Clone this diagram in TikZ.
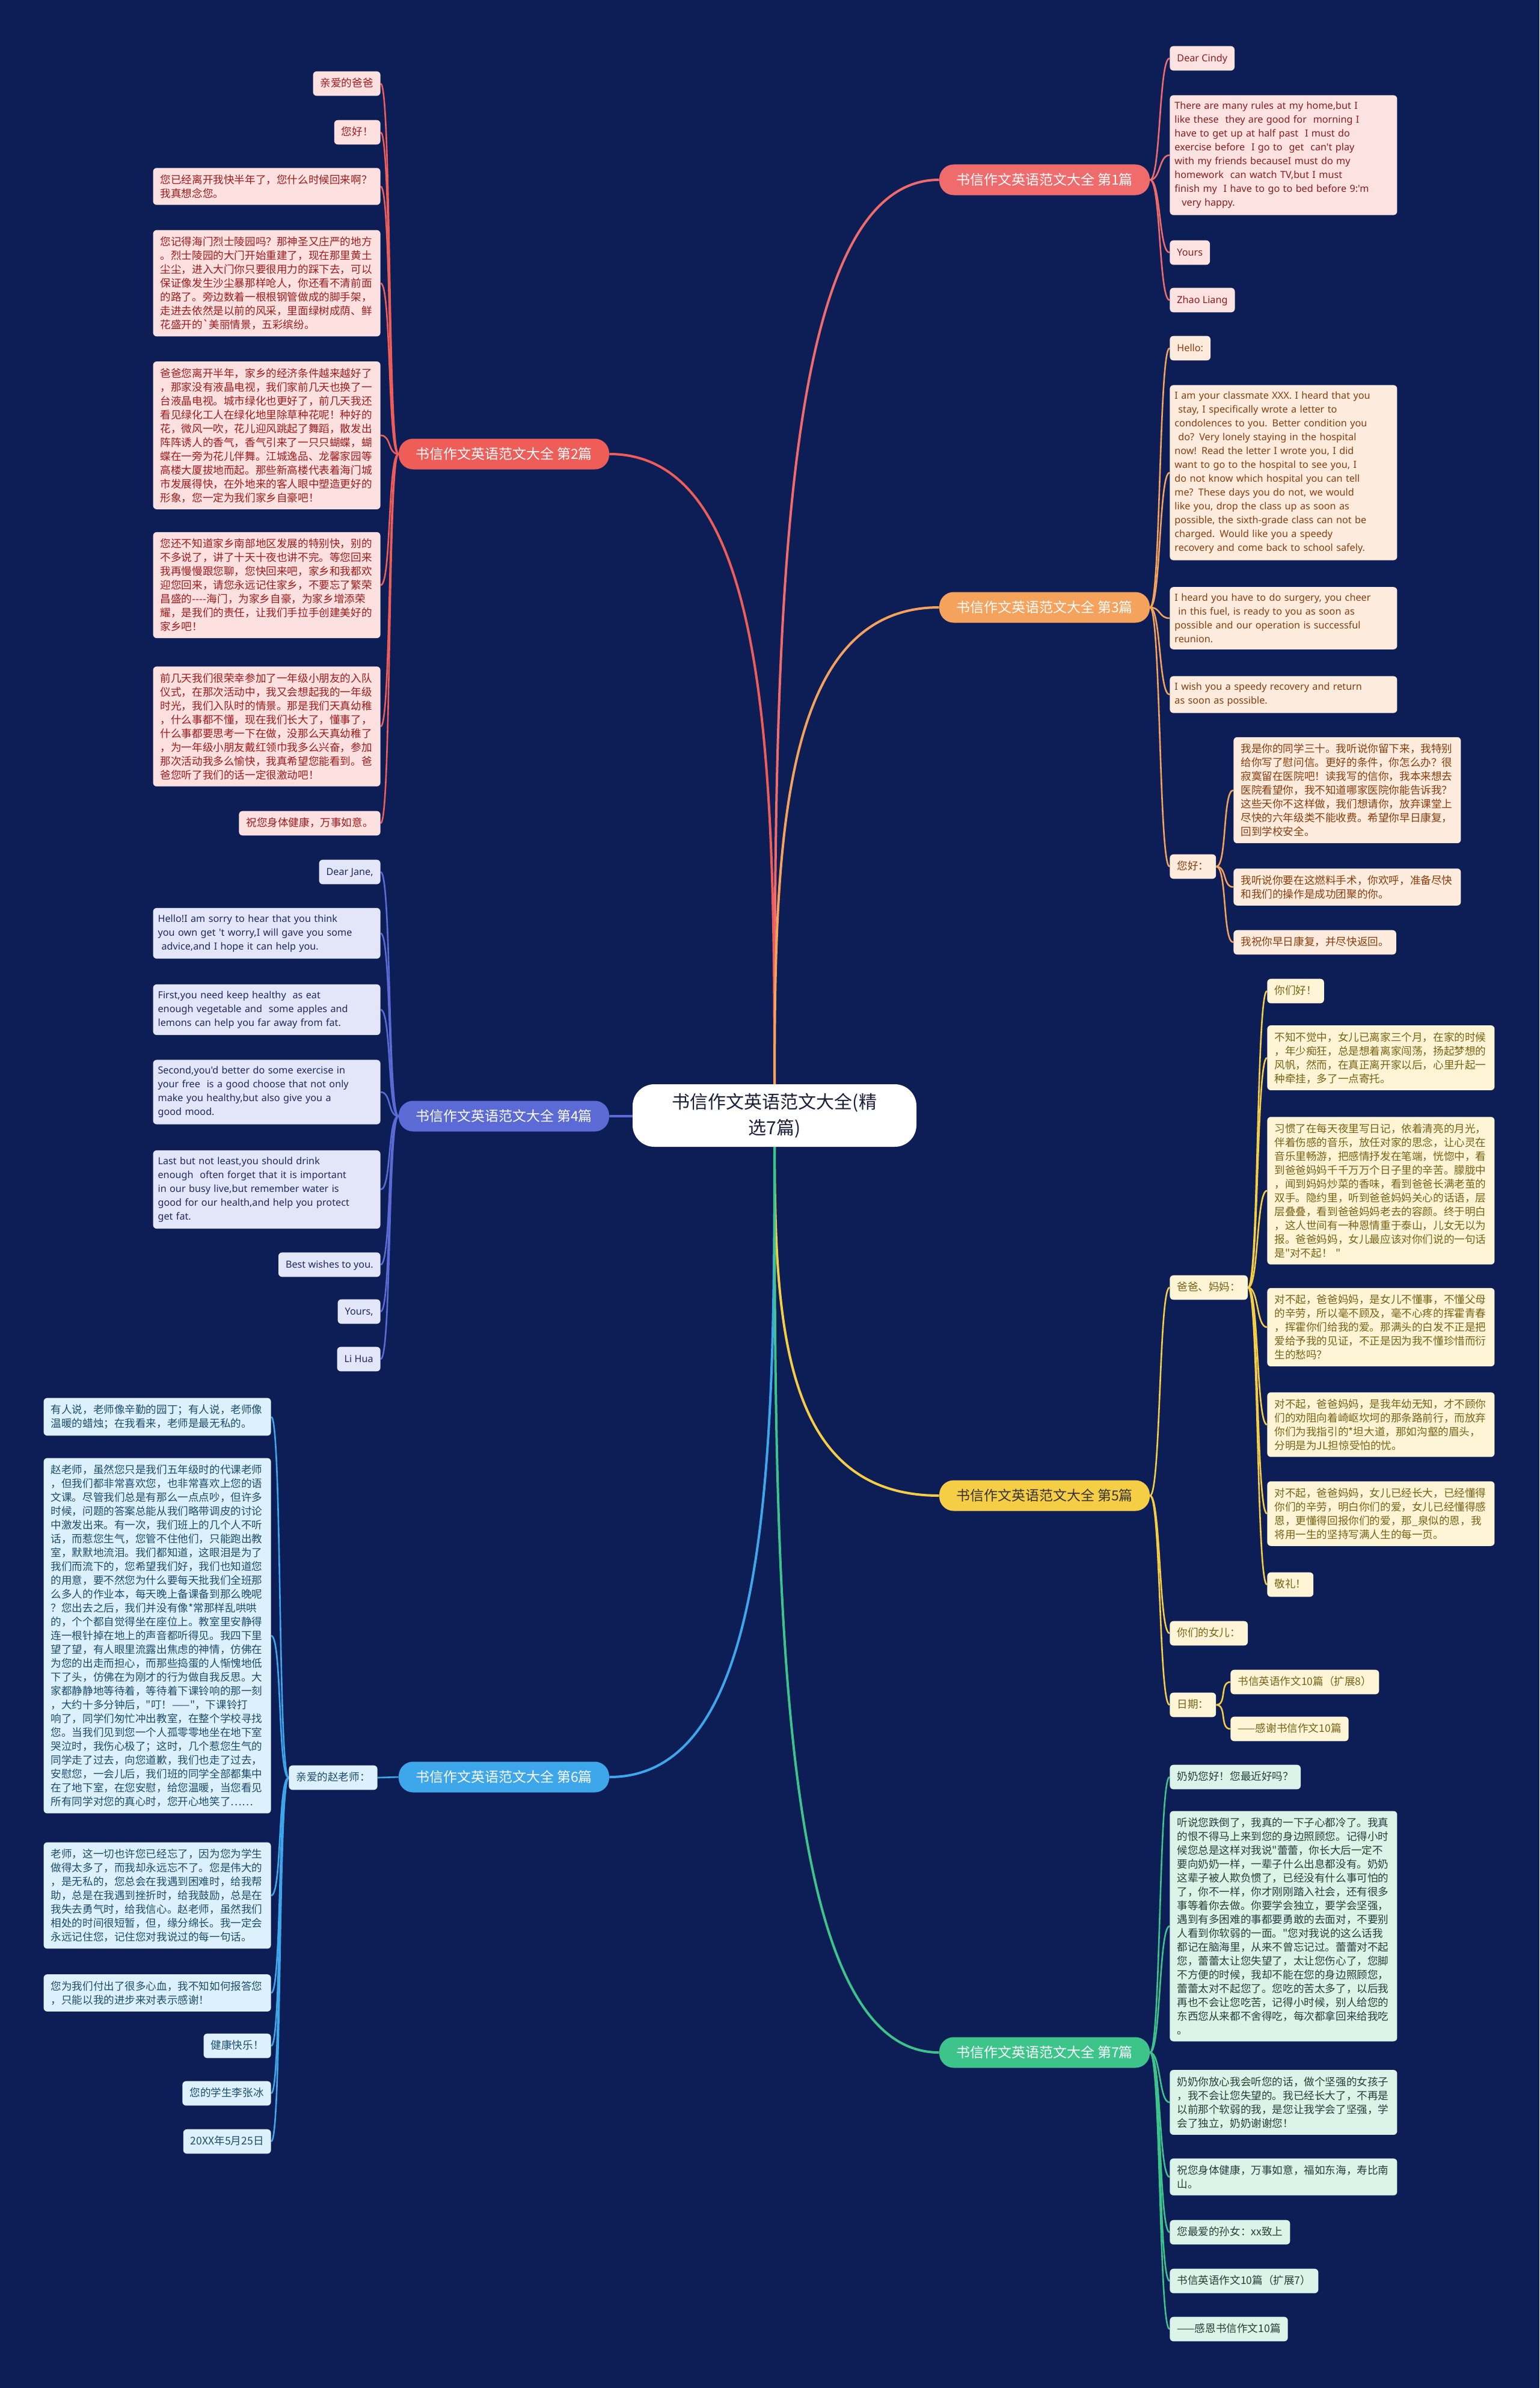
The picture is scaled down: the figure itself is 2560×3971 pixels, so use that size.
\documentclass[tikz,border=0pt]{standalone}
\usepackage{fontspec}
\setmainfont{Noto Sans}[Ligatures=TeXOff]
\newfontfamily\cjk{Noto Sans CJK SC}[Ligatures=TeXOff]
\usetikzlibrary{calc}

\definecolor{bgnavy}{HTML}{0D1E57}
\definecolor{hubtext}{HTML}{1B1E3A}
% branch colours
\definecolor{cA}{HTML}{F06B6B}
\definecolor{cB}{HTML}{EE5D58}
\definecolor{cC}{HTML}{F5A25C}
\definecolor{cD}{HTML}{5B6AD4}
\definecolor{cE}{HTML}{F6CE46}
\definecolor{cF}{HTML}{3EA7EC}
\definecolor{cG}{HTML}{3CC48B}
% leaf fills and texts
\definecolor{fA}{HTML}{FDE2E2}\definecolor{tA}{HTML}{8C1C1C}
\definecolor{fB}{HTML}{FDE0E0}\definecolor{tB}{HTML}{A11B1B}
\definecolor{fC}{HTML}{FDEBDD}\definecolor{tC}{HTML}{8A3D0C}
\definecolor{fD}{HTML}{E3E6F8}\definecolor{tD}{HTML}{1E2860}
\definecolor{fE}{HTML}{FDF5D6}\definecolor{tE}{HTML}{7A6214}
\definecolor{fF}{HTML}{DDF1FC}\definecolor{tF}{HTML}{1B4C6E}
\definecolor{fG}{HTML}{DCF3EA}\definecolor{tG}{HTML}{22403A}

\pgfdeclarelayer{ground}
\pgfdeclarelayer{wires}
\pgfsetlayers{ground,wires,main}

\tikzset{
  hubnode/.style={fill=white, text=hubtext, rounded corners=18pt, minimum width=236pt,
    minimum height=52pt, align=center, font=\cjk\fontsize{15}{21.5}\selectfont},
  branch/.style={rounded corners=12pt, minimum width=175pt, minimum height=25.5pt,
    inner sep=0pt, text=white, font=\cjk\fontsize{11.5}{13}\selectfont},
  leaf/.style={rounded corners=3pt, inner xsep=6pt, inner ysep=5.5pt, align=left,
    font=\cjk\fontsize{8.8}{11.5}\selectfont},
  para/.style={text width=177pt},
  enpara/.style={text width=181pt, inner xsep=4pt},
  oneline/.style={text height=7.5pt, text depth=1.8pt},
  en/.style={font=\fontsize{8.1}{11.5}\selectfont},
  leafA/.style={leaf, fill=fA, text=tA},
  leafB/.style={leaf, fill=fB, text=tB},
  leafC/.style={leaf, fill=fC, text=tC},
  leafD/.style={leaf, fill=fD, text=tD},
  leafE/.style={leaf, fill=fE, text=tE},
  leafF/.style={leaf, fill=fF, text=tF},
  leafG/.style={leaf, fill=fG, text=tG},
  trunk/.style={line width=2pt},
  twig/.style={line width=1.3pt},
  linkR/.style={to path={.. controls ([xshift=9pt]\tikztostart) and ([xshift=-9pt]\tikztotarget) .. (\tikztotarget)}},
  linkL/.style={to path={.. controls ([xshift=-9pt]\tikztostart) and ([xshift=9pt]\tikztotarget) .. (\tikztotarget)}},
}

\begin{document}
\begin{tikzpicture}[x=0.5pt, y=-0.5pt]
        \useasboundingbox (0,0) rectangle (2560,3971);
        \begin{pgfonlayer}{ground}
          \fill[bgnavy] (0,0) rectangle (2560,3971);
        \end{pgfonlayer}

        % 中心
        \node[hubnode] (hub) at (1288,1855) {书信作文英语范文大全(精\\选7篇)};

        % 分支
        \node[branch, fill=cA] (b1) at (1737,299) {书信作文英语范文大全 第1篇};
        \node[branch, fill=cB] (b2) at (838,755) {书信作文英语范文大全 第2篇};
        \node[branch, fill=cC] (b3) at (1737,1010) {书信作文英语范文大全 第3篇};
        \node[branch, fill=cD] (b4) at (838,1856) {书信作文英语范文大全 第4篇};
        \node[branch, fill=cE, text=black!80] (b5) at (1737,2487) {书信作文英语范文大全 第5篇};
        \node[branch, fill=cF] (b6) at (838,2955) {书信作文英语范文大全 第6篇};
        \node[branch, fill=cG] (b7) at (1737,3413) {书信作文英语范文大全 第7篇};

        % 第1篇
        \node[leafA, en, oneline, anchor=west] (b1a) at (1945,97) {Dear Cindy};
        \node[leafA, en, enpara, anchor=west] (b1b) at (1945,258) {There are many rules at my home,but I\\like these\ \ they are good for\ \ morning I\\have to get up at half past\ \ I must do\\exercise before\ \ I go to\ \ get\ \ can't play\\with my friends becauseI must do my\\homework\ \ can watch TV,but I must\\finish my\ \ I have to go to bed before 9:'m\\\hspace*{6pt}very happy.};
        \node[leafA, en, oneline, anchor=west] (b1c) at (1945,420) {Yours};
        \node[leafA, en, oneline, anchor=west] (b1d) at (1945,499) {Zhao Liang};

        % 第2篇
        \node[leafB, oneline, anchor=east] (b2a) at (633,139) {亲爱的爸爸};
        \node[leafB, oneline, anchor=east] (b2b) at (633,220) {您好！};
        \node[leafB, para, anchor=east] (b2c) at (633,310) {您已经离开我快半年了，您什么时候回来啊？\\我真想念您。};
        \node[leafB, para, anchor=east] (b2d) at (633,471) {您记得海门烈士陵园吗？那神圣又庄严的地方\\。烈士陵园的大门开始重建了，现在那里黄土\\尘尘，进入大门你只要很用力的踩下去，可以\\保证像发生沙尘暴那样呛人，你还看不清前面\\的路了。旁边数着一根根钢管做成的脚手架，\\走进去依然是以前的风采，里面绿树成荫、鲜\\花盛开的\textasciigrave 美丽情景，五彩缤纷。};
        \node[leafB, para, anchor=east] (b2e) at (633,724) {爸爸您离开半年，家乡的经济条件越来越好了\\，那家没有液晶电视，我们家前几天也换了一\\台液晶电视。城市绿化也更好了，前几天我还\\看见绿化工人在绿化地里除草种花呢！种好的\\花，微风一吹，花儿迎风跳起了舞蹈，散发出\\阵阵诱人的香气，香气引来了一只只蝴蝶，蝴\\蝶在一旁为花儿伴舞。江城逸品、龙馨家园等\\高楼大厦拔地而起。那些新高楼代表着海门城\\市发展得快，在外地来的客人眼中塑造更好的\\形象，您一定为我们家乡自豪吧！};
        \node[leafB, para, anchor=east] (b2f) at (633,973) {您还不知道家乡南部地区发展的特别快，别的\\不多说了，讲了十天十夜也讲不完。等您回来\\我再慢慢跟您聊，您快回来吧，家乡和我都欢\\迎您回来，请您永远记住家乡，不要忘了繁荣\\昌盛的----海门，为家乡自豪，为家乡增添荣\\耀，是我们的责任，让我们手拉手创建美好的\\家乡吧！};
        \node[leafB, para, anchor=east] (b2g) at (633,1208) {前几天我们很荣幸参加了一年级小朋友的入队\\仪式，在那次活动中，我又会想起我的一年级\\时光，我们入队时的情景。那是我们天真幼稚\\，什么事都不懂，现在我们长大了，懂事了，\\什么事都要思考一下在做，没那么天真幼稚了\\，为一年级小朋友戴红领巾我多么兴奋，参加\\那次活动我多么愉快，我真希望您能看到。爸\\爸您听了我们的话一定很激动吧！};
        \node[leafB, oneline, anchor=east] (b2h) at (633,1369) {祝您身体健康，万事如意。};

        % 第3篇
        \node[leafC, en, oneline, anchor=west] (b3a) at (1945,579) {Hello:};
        \node[leafC, en, enpara, anchor=west] (b3b) at (1945,786) {I am your classmate XXX. I heard that you\\\hspace*{3pt}stay, I specifically wrote a letter to\\condolences to you. Better condition you\\\hspace*{3pt}do? Very lonely staying in the hospital\\now! Read the letter I wrote you, I did\\want to go to the hospital to see you, I\\do not know which hospital you can tell\\me? These days you do not, we would\\like you, drop the class up as soon as\\possible, the sixth-grade class can not be\\charged. Would like you a speedy\\recovery and come back to school safely.};
        \node[leafC, en, enpara, anchor=west] (b3c) at (1945,1028) {I heard you have to do surgery, you cheer\\\hspace*{3pt}in this fuel, is ready to you as soon as\\possible and our operation is successful\\reunion.};
        \node[leafC, en, enpara, anchor=west] (b3d) at (1945,1155) {I wish you a speedy recovery and return\\as soon as possible.};
        \node[leafC, oneline, anchor=west] (b3e) at (1945,1441) {您好：};
        \node[leafC, para, anchor=west] (b3e1) at (2051,1314) {我是你的同学三十。我听说你留下来，我特别\\给你写了慰问信。更好的条件，你怎么办？很\\寂寞留在医院吧！读我写的信你，我本来想去\\医院看望你，我不知道哪家医院你能告诉我？\\这些天你不这样做，我们想请你，放弃课堂上\\尽快的六年级类不能收费。希望你早日康复，\\回到学校安全。};
        \node[leafC, para, anchor=west] (b3e2) at (2051,1475) {我听说你要在这燃料手术，你欢呼，准备尽快\\和我们的操作是成功团聚的你。};
        \node[leafC, oneline, anchor=west] (b3e3) at (2051,1567) {我祝你早日康复，并尽快返回。};

        % 第4篇
        \node[leafD, en, oneline, anchor=east] (b4a) at (633,1450) {Dear Jane,};
        \node[leafD, en, enpara, anchor=east] (b4b) at (633,1552) {Hello!I am sorry to hear that you think\\you own get 't worry,I will gave you some\\\hspace*{3pt}advice,and I hope it can help you.};
        \node[leafD, en, enpara, anchor=east] (b4c) at (633,1679) {First,you need keep healthy\ \ as eat\\enough vegetable and\ \ some apples and\\lemons can help you far away from fat.};
        \node[leafD, en, enpara, anchor=east] (b4d) at (633,1816) {Second,you'd better do some exercise in\\your free\ \ is a good choose that not only\\make you healthy,but also give you a\\good mood.};
        \node[leafD, en, enpara, anchor=east] (b4e) at (633,1978) {Last but not least,you should drink\\enough\ \ often forget that it is important\\in our busy live,but remember water is\\good for our health,and help you protect\\get fat.};
        \node[leafD, en, oneline, anchor=east] (b4f) at (633,2103) {Best wishes to you.};
        \node[leafD, en, oneline, anchor=east] (b4g) at (633,2181) {Yours,};
        \node[leafD, en, oneline, anchor=east] (b4h) at (633,2260) {Li Hua};

        % 第5篇
        \node[leafE, oneline, anchor=west] (b5a) at (1945,2141) {爸爸、妈妈：};
        \node[leafE, oneline, anchor=west] (b5a1) at (2107,1648) {你们好！};
        \node[leafE, para, anchor=west] (b5a2) at (2107,1759) {不知不觉中，女儿已离家三个月，在家的时候\\，年少痴狂，总是想着离家闯荡，扬起梦想的\\风帆，然而，在真正离开家以后，心里升起一\\种牵挂，多了一点寄托。};
        \node[leafE, para, anchor=west] (b5a3) at (2107,1980) {习惯了在每天夜里写日记，依着清亮的月光，\\伴着伤感的音乐，放任对家的思念，让心灵在\\音乐里畅游，把感情抒发在笔端，恍惚中，看\\到爸爸妈妈千千万万个日子里的辛苦。朦胧中\\，闻到妈妈炒菜的香味，看到爸爸长满老茧的\\双手。隐约里，听到爸爸妈妈关心的话语，层\\层叠叠，看到爸爸妈妈老去的容颜。终于明白\\，这人世间有一种恩情重于泰山，儿女无以为\\报。爸爸妈妈，女儿最应该对你们说的一句话\\是"对不起！ "};
        \node[leafE, para, anchor=west] (b5a4) at (2107,2207) {对不起，爸爸妈妈，是女儿不懂事，不懂父母\\的辛劳，所以毫不顾及，毫不心疼的挥霍青春\\，挥霍你们给我的爱。那满头的白发不正是把\\爱给予我的见证，不正是因为我不懂珍惜而衍\\生的愁吗？};
        \node[leafE, para, anchor=west] (b5a5) at (2107,2369) {对不起，爸爸妈妈，是我年幼无知，才不顾你\\们的劝阻向着崎岖坎坷的那条路前行，而放弃\\你们为我指引的*坦大道，那如沟壑的眉头，\\分明是为JL担惊受怕的忧。};
        \node[leafE, para, anchor=west] (b5a6) at (2107,2517) {对不起，爸爸妈妈，女儿已经长大，已经懂得\\你们的辛劳，明白你们的爱，女儿已经懂得感\\恩，更懂得回报你们的爱，那\_泉似的恩，我\\将用一生的坚持写满人生的每一页。};
        \node[leafE, oneline, anchor=west] (b5a7) at (2107,2635) {敬礼！};
        \node[leafE, oneline, anchor=west] (b5b) at (1945,2716) {你们的女儿：};
        \node[leafE, oneline, anchor=west] (b5c) at (1945,2835) {日期：};
        \node[leafE, oneline, anchor=west] (b5c1) at (2046,2797) {书信英语作文10篇（扩展8）};
        \node[leafE, oneline, anchor=west] (b5c2) at (2046,2875) {——感谢书信作文10篇};

        % 第6篇
        \node[leafF, oneline, anchor=east] (b6a) at (628,2956) {亲爱的赵老师：};
        \node[leafF, para, anchor=east] (b6a1) at (451,2356) {有人说，老师像辛勤的园丁；有人说，老师像\\温暖的蜡烛；在我看来，老师是最无私的。};
        \node[leafF, para, anchor=east] (b6a2) at (451,2720) {赵老师，虽然您只是我们五年级时的代课老师\\，但我们都非常喜欢您，也非常喜欢上您的语\\文课。尽管我们总是有那么一点点吵，但许多\\时候，问题的答案总能从我们略带调皮的讨论\\中激发出来。有一次，我们班上的几个人不听\\话，而惹您生气，您管不住他们，只能跑出教\\室，默默地流泪。我们都知道，这眼泪是为了\\我们而流下的，您希望我们好，我们也知道您\\的用意，要不然您为什么要每天批我们全班那\\么多人的作业本，每天晚上备课备到那么晚呢\\？您出去之后，我们并没有像*常那样乱哄哄\\的，个个都自觉得坐在座位上。教室里安静得\\连一根针掉在地上的声音都听得见。我四下里\\望了望，有人眼里流露出焦虑的神情，仿佛在\\为您的出走而担心，而那些捣蛋的人惭愧地低\\下了头，仿佛在为刚才的行为做自我反思。大\\家都静静地等待着，等待着下课铃响的那一刻\\，大约十多分钟后，"叮！——"，下课铃打\\响了，同学们匆忙冲出教室，在整个学校寻找\\您。当我们见到您一个人孤零零地坐在地下室\\哭泣时，我伤心极了；这时，几个惹您生气的\\同学走了过去，向您道歉，我们也走了过去，\\安慰您，一会儿后，我们班的同学全部都集中\\在了地下室，在您安慰，给您温暖，当您看见\\所有同学对您的真心时，您开心地笑了……};
        \node[leafF, para, anchor=east] (b6a3) at (451,3152) {老师，这一切也许您已经忘了，因为您为学生\\做得太多了，而我却永远忘不了。您是伟大的\\，是无私的，您总会在我遇到困难时，给我帮\\助，总是在我遇到挫折时，给我鼓励，总是在\\我失去勇气时，给我信心。赵老师，虽然我们\\相处的时间很短暂，但，缘分绵长。我一定会\\永远记住您，记住您对我说过的每一句话。};
        \node[leafF, para, anchor=east] (b6a4) at (451,3314) {您为我们付出了很多心血，我不知如何报答您\\，只能以我的进步来对表示感谢！};
        \node[leafF, oneline, anchor=east] (b6a5) at (451,3402) {健康快乐！};
        \node[leafF, oneline, anchor=east] (b6a6) at (451,3481) {您的学生李张冰};
        \node[leafF, oneline, anchor=east] (b6a7) at (451,3561) {20XX年5月25日};

        % 第7篇
        \node[leafG, oneline, anchor=west] (b7a) at (1945,2955) {奶奶您好！您最近好吗？};
        \node[leafG, para, anchor=west] (b7b) at (1945,3203) {听说您跌倒了，我真的一下子心都冷了。我真\\的恨不得马上来到您的身边照顾您。记得小时\\候您总是这样对我说"蕾蕾，你长大后一定不\\要向奶奶一样，一辈子什么出息都没有。奶奶\\这辈子被人欺负惯了，已经没有什么事可怕的\\了，你不一样，你才刚刚踏入社会，还有很多\\事等着你去做。你要学会独立，要学会坚强，\\遇到有多困难的事都要勇敢的去面对，不要别\\人看到你软弱的一面。"您对我说的这么话我\\都记在脑海里，从来不曾忘记过。蕾蕾对不起\\您，蕾蕾太让您失望了，太让您伤心了，您脚\\不方便的时候，我却不能在您的身边照顾您，\\蕾蕾太对不起您了。您吃的苦太多了，以后我\\再也不会让您吃苦，记得小时候，别人给您的\\东西您从来都不舍得吃，每次都拿回来给我吃\\。};
        \node[leafG, para, anchor=west] (b7c) at (1945,3496) {奶奶你放心我会听您的话，做个坚强的女孩子\\，我不会让您失望的。我已经长大了，不再是\\以前那个软弱的我，是您让我学会了坚强，学\\会了独立，奶奶谢谢您！};
        \node[leafG, para, anchor=west] (b7d) at (1945,3620) {祝您身体健康，万事如意，福如东海，寿比南\\山。};
        \node[leafG, oneline, anchor=west] (b7e) at (1945,3712) {您最爱的孙女：xx致上};
        \node[leafG, oneline, anchor=west] (b7f) at (1945,3793) {书信英语作文10篇（扩展7）};
        \node[leafG, oneline, anchor=west] (b7g) at (1945,3873) {——感恩书信作文10篇};

        \begin{pgfonlayer}{wires}
          % 主干
          \foreach \b/\s/\c in {b1/west/cA, b2/east/cB, b3/west/cC, b4/east/cD, b5/west/cE, b6/east/cF, b7/west/cG}
            \draw[trunk, draw=\c] (hub.center) .. controls ($(hub.center)!0.5!(hub.center|-\b)$) and (hub.center|-\b) .. (\b.\s);

          % 叶子连线
          \foreach \l in {b1a,b1b,b1c,b1d}
            \draw[twig, draw=cA] (b1.east) to[linkR] (\l.west);
          \foreach \l in {b2a,b2b,b2c,b2d,b2e,b2f,b2g,b2h}
            \draw[twig, draw=cB] (b2.west) to[linkL] (\l.east);
          \foreach \l in {b3a,b3b,b3c,b3d,b3e}
            \draw[twig, draw=cC] (b3.east) to[linkR] (\l.west);
          \foreach \l in {b3e1,b3e2,b3e3}
            \draw[twig, draw=cC] (b3e.east) to[linkR] (\l.west);
          \foreach \l in {b4a,b4b,b4c,b4d,b4e,b4f,b4g,b4h}
            \draw[twig, draw=cD] (b4.west) to[linkL] (\l.east);
          \foreach \l in {b5a,b5b,b5c}
            \draw[twig, draw=cE] (b5.east) to[linkR] (\l.west);
          \foreach \l in {b5a1,b5a2,b5a3,b5a4,b5a5,b5a6,b5a7}
            \draw[twig, draw=cE] (b5a.east) to[linkR] (\l.west);
          \foreach \l in {b5c1,b5c2}
            \draw[twig, draw=cE] (b5c.east) to[linkR] (\l.west);
          \draw[twig, draw=cF] (b6.west) -- (b6a.east);
          \foreach \l in {b6a1,b6a2,b6a3,b6a4,b6a5,b6a6,b6a7}
            \draw[twig, draw=cF] (b6a.west) to[linkL] (\l.east);
          \foreach \l in {b7a,b7b,b7c,b7d,b7e,b7f,b7g}
            \draw[twig, draw=cG] (b7.east) to[linkR] (\l.west);
        \end{pgfonlayer}
\end{tikzpicture}
\end{document}
